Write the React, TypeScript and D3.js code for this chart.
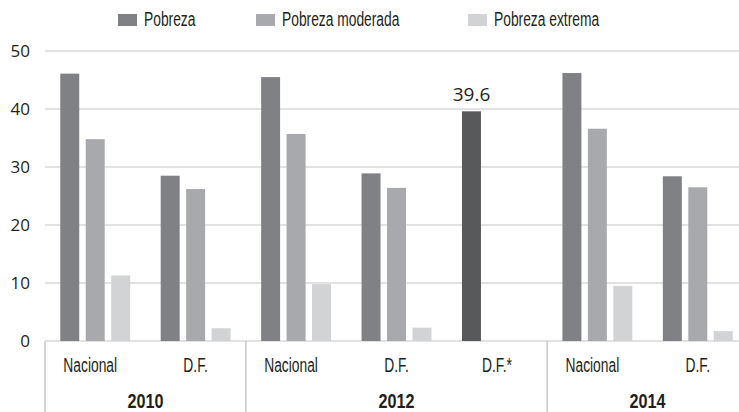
import React, { useRef, useEffect } from "react";
import * as d3 from "d3";

// Data
const categories = ["Nacional", "D.F.", "Nacional", "D.F.", "D.F.*", "Nacional", "D.F."];
const years = ["2010", "2012", "2014"];
const yearSpans = [2, 3, 2];
const seriesNames = ["Pobreza", "Pobreza moderada", "Pobreza extrema"];
const pobreza = [46.1, 28.5, 45.5, 28.9, 39.6, 46.2, 28.4];
const moderada = [34.8, 26.2, 35.7, 26.4, null, 36.6, 26.5];
const extrema = [11.3, 2.2, 9.8, 2.3, null, 9.5, 1.7];
const yTicks = [0, 10, 20, 30, 40, 50];
const highlightIndex = 4; // D.F.* bar with value label

// squeeze text horizontally (no condensed font installed)
const condense = (sel: any, k: number) => {
  sel.each(function (this: SVGTextElement) {
    const len = this.getComputedTextLength();
    d3.select(this).attr("textLength", len * k).attr("lengthAdjust", "spacingAndGlyphs");
  });
};

const App = () => {
  const svgRef = useRef<SVGSVGElement>(null);

  useEffect(() => {
    const width = 739;
    const height = 412;
    const svg = d3.select(svgRef.current).attr("width", width).attr("height", height);
    svg.selectAll("*").remove();

    const condensedFont = "'Liberation Sans', Arial, sans-serif";
    const regular = "'Open Sans', 'Noto Sans', sans-serif";
    const colors = ["#808184", "#a7a9ac", "#d1d3d4"];
    const series = [pobreza, moderada, extrema];

    const left = 45;
    const right = 748;
    const y = d3.scaleLinear().domain([0, 50]).range([341, 51]);

    const keys = categories.map((c, i) => `${i}`);
    const x = d3.scaleBand().domain(keys).range([left, right]);
    const xInner = d3
      .scaleBand()
      .domain(seriesNames)
      .range([0, x.bandwidth()])
      .paddingInner(0.255)
      .paddingOuter(0.6);

    // gridlines
    svg
      .append("g")
      .selectAll("line")
      .data(yTicks)
      .join("line")
      .attr("x1", left)
      .attr("x2", right)
      .attr("y1", (d) => y(d))
      .attr("y2", (d) => y(d))
      .attr("stroke", "#d9d9d9")
      .attr("stroke-width", 1.5);

    // y labels
    svg
      .append("g")
      .selectAll("text")
      .data(yTicks)
      .join("text")
      .attr("x", 30)
      .attr("y", (d) => y(d) + 6)
      .attr("text-anchor", "end")
      .attr("font-family", regular)
      .attr("font-size", 17)
      .attr("fill", "#231f20")
      .text((d) => d);

    // bars
    series.forEach((vals, s) => {
      svg
        .append("g")
        .selectAll("rect")
        .data(vals.map((v, i) => ({ v, i })).filter((d) => d.v != null))
        .join("rect")
        .attr("x", (d) => (x(`${d.i}`) as number) + (xInner(seriesNames[s]) as number))
        .attr("width", xInner.bandwidth())
        .attr("y", (d) => y(d.v as number))
        .attr("height", (d) => y(0) - y(d.v as number))
        .attr("fill", (d) => (d.i === highlightIndex ? "#58595b" : colors[s]));
    });

    // value label
    const hx = (x(`${highlightIndex}`) as number) + (xInner(seriesNames[0]) as number) + xInner.bandwidth() / 2;
    svg
      .append("text")
      .attr("x", hx)
      .attr("y", y(pobreza[highlightIndex]) - 10)
      .attr("text-anchor", "middle")
      .attr("font-family", regular)
      .attr("font-size", 19)
      .attr("fill", "#231f20")
      .text(pobreza[highlightIndex]);

    // category axis box
    const axis = svg.append("g");
    let start = 0;
    const bounds = [0];
    yearSpans.forEach((n) => {
      start += n;
      bounds.push(start);
    });
    axis
      .selectAll("line")
      .data(bounds)
      .join("line")
      .attr("x1", (b) => left + b * x.step())
      .attr("x2", (b) => left + b * x.step())
      .attr("y1", y(0))
      .attr("y2", height)
      .attr("stroke", "#c8c8c8")
      .attr("stroke-width", 1.5);

    const catLabels = axis
      .selectAll("text.cat")
      .data(categories)
      .join("text")
      .attr("class", "cat")
      .attr("x", (d, i) => (x(`${i}`) as number) + x.bandwidth() / 2 - (d === "Nacional" ? 5 : 0))
      .attr("y", 372)
      .attr("text-anchor", "middle")
      .attr("font-family", condensedFont)
      .attr("font-size", 20)
      .attr("fill", "#231f20")
      .text((d) => d);
    condense(catLabels, 0.69);

    const yearLabels = axis
      .selectAll("text.year")
      .data(years)
      .join("text")
      .attr("class", "year")
      .attr("x", (d, i) => left + ((bounds[i] + bounds[i + 1]) / 2) * x.step())
      .attr("y", 408)
      .attr("text-anchor", "middle")
      .attr("font-family", condensedFont)
      .attr("font-weight", "bold")
      .attr("font-size", 20)
      .attr("fill", "#231f20")
      .text((d) => d);
    condense(yearLabels, 0.81);

    // legend
    const legendX = [118, 256, 468];
    const legend = svg.append("g");
    legend
      .selectAll("rect")
      .data(seriesNames)
      .join("rect")
      .attr("x", (d, i) => legendX[i])
      .attr("y", 14)
      .attr("width", 19)
      .attr("height", 12)
      .attr("fill", (d, i) => colors[i]);
    const legendText = legend
      .selectAll("text")
      .data(seriesNames)
      .join("text")
      .attr("x", (d, i) => legendX[i] + 26)
      .attr("y", 26)
      .attr("font-family", condensedFont)
      .attr("font-size", 20)
      .attr("fill", "#231f20")
      .text((d) => d);
    condense(legendText, 0.69);
  }, []);

  return (
    <div>
      <svg ref={svgRef} style={{ position: "absolute", left: 0, top: 0 }}></svg>
    </div>
  );
};

export default App;
